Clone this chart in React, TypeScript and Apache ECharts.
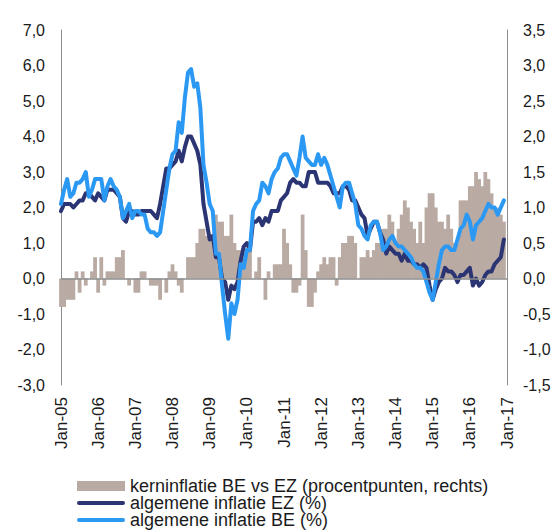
import React, { useEffect, useRef } from "react";
import * as echarts from "echarts";

const xTickLabels = ["Jan-05","Jan-06","Jan-07","Jan-08","Jan-09","Jan-10","Jan-11","Jan-12","Jan-13","Jan-14","Jan-15","Jan-16","Jan-17"];

// monthly, Jan-05 .. Dec-16
const ezInflation = [
  1.9,2.1,2.1,2.1,2.0,2.1,2.2,2.2,2.4,2.4,2.3,2.2,
  2.4,2.3,2.2,2.5,2.5,2.5,2.4,2.3,1.7,1.6,1.9,1.9,
  1.8,1.8,1.9,1.9,1.9,1.9,1.8,1.7,2.1,2.6,3.1,3.1,
  3.2,3.3,3.6,3.3,3.7,4.0,4.0,3.8,3.6,3.2,2.1,1.6,
  1.1,1.2,0.6,0.6,0.0,-0.1,-0.6,-0.2,-0.3,-0.1,0.5,0.9,
  1.0,0.8,1.6,1.6,1.7,1.5,1.7,1.6,1.9,1.9,1.9,2.2,
  2.3,2.4,2.7,2.8,2.7,2.7,2.6,2.6,3.0,3.0,3.0,2.7,
  2.7,2.7,2.7,2.6,2.4,2.4,2.4,2.6,2.6,2.5,2.2,2.2,
  2.0,1.8,1.7,1.2,1.4,1.6,1.6,1.3,1.1,0.7,0.9,0.8,
  0.7,0.7,0.5,0.7,0.5,0.5,0.4,0.4,0.3,0.4,0.3,-0.2,
  -0.6,-0.3,-0.1,0.0,0.3,0.2,0.2,0.1,-0.1,0.1,0.1,0.2,
  0.3,-0.2,0.0,-0.2,-0.1,0.1,0.2,0.2,0.4,0.5,0.6,1.1
];

const beInflation = [
  2.1,2.5,2.8,2.3,2.4,2.7,2.7,2.8,3.0,2.3,2.5,2.8,
  2.8,2.8,2.2,2.6,2.8,2.6,2.5,2.3,1.7,1.9,2.1,1.7,
  1.9,1.9,1.8,1.8,1.4,1.3,1.3,1.2,1.3,1.9,2.5,3.1,
  3.5,3.6,4.4,4.1,5.1,5.8,5.9,5.4,5.5,4.8,3.2,2.7,
  2.1,1.9,0.7,0.7,-0.2,-1.0,-1.7,-0.7,-1.0,-0.6,0.4,0.3,
  0.8,0.8,1.9,2.1,2.2,2.7,2.6,2.4,2.8,3.0,3.1,3.4,
  3.5,3.5,3.3,3.1,2.9,3.4,4.0,3.4,3.3,3.2,3.2,3.5,
  3.2,3.4,3.2,2.9,2.6,2.3,2.0,2.6,2.7,2.7,2.4,2.1,
  1.5,1.4,1.2,1.1,1.5,1.6,1.6,1.3,0.8,0.9,1.1,1.2,
  1.0,0.9,0.9,0.8,0.7,0.6,0.4,0.3,0.3,0.2,-0.1,-0.4,
  -0.6,-0.1,0.4,0.8,0.9,0.9,0.8,0.8,1.1,1.4,1.5,1.8,
  1.6,1.1,1.5,1.6,1.7,1.9,2.1,2.0,2.0,1.8,2.0,2.2
];

// kerninflatie BE vs EZ (procentpunten), right axis
const coreDiff = [
  -0.4,-0.4,-0.3,-0.3,-0.3,0.1,-0.2,0.1,-0.1,0,0.1,0.3,
  -0.2,0.3,-0.1,0.1,0.1,0.1,0.3,0.3,0.4,0,-0.1,0,
  -0.2,-0.2,0.1,0.1,0,-0.1,-0.1,-0.1,-0.3,0,-0.2,0.1,
  0.2,0.1,-0.1,-0.2,0,0.3,0.3,0.3,0.5,0.7,0.7,0.6,
  0.6,0.6,0.9,0.8,0.8,0.6,0.6,0.9,0.5,0.4,0.4,0.4,
  0.4,0.4,0,0.1,0.3,0,-0.3,0.1,0,0.2,0.2,0.2,
  0.7,0.5,0.2,-0.2,-0.2,-0.1,0.9,0.4,-0.4,-0.4,-0.2,0.1,
  0.2,0.3,0.2,0.3,0.3,-0.1,0.3,0.5,0.5,0.6,0.6,0.5,
  0,0.3,0.3,0.4,0.3,0.4,0.5,0.5,0.7,0.7,0.9,0.8,
  0.5,0.7,0.9,1.1,1.0,0.8,0.7,0.5,0.8,0.5,1.0,1.2,
  1.2,1.0,0.8,0.8,0.7,0.9,0.7,0.5,0.5,1.1,1.1,1.1,
  1.3,1.3,1.5,1.4,1.3,1.5,1.4,1.2,1.0,1.0,0.9,0.8
];

const legendNames = [
  "kerninflatie BE vs EZ (procentpunten, rechts)",
  "algemene inflatie EZ (%)",
  "algemene inflatie BE (%)"
];

const colors = { bar: "#b9aba3", ez: "#2c3574", be: "#2b99f3", axis: "#8c8c8c", text: "#1a1a1a" };

const fmt = (v: number) => v.toFixed(1).replace(".", ",");
const lineIcon = "path://M2,0 H46 A2,2 0 0 1 46,4 H2 A2,2 0 0 1 2,0 Z";

export default function App() {
  const ref = useRef<HTMLDivElement>(null);
  useEffect(() => {
    document.body.style.margin = "0";
    if (!ref.current) return;
    const chart = echarts.init(ref.current, undefined, { renderer: "svg" });
    const font = "'Liberation Sans', Arial, sans-serif";
    const legendIcons = ["rect", lineIcon, lineIcon];
    const legendColors = [colors.bar, colors.ez, colors.be];
    const legendTops = [477, 494, 511];
    chart.setOption({
      animation: false,
      textStyle: { fontFamily: font },
      grid: { left: 61, right: 51, top: 30, bottom: 145, containLabel: false },
      legend: legendNames.map((name, k) => ({
        orient: "horizontal",
        left: 77,
        top: legendTops[k],
        padding: 0,
        itemGap: 0,
        itemWidth: 48,
        itemHeight: 10,
        textStyle: { fontSize: 18, color: colors.text, fontFamily: font, lineHeight: 18 },
        data: [{ name, icon: legendIcons[k], itemStyle: { color: legendColors[k] } }]
      })),
      xAxis: {
        type: "value",
        min: 0,
        max: 144,
        interval: 12,
        axisLine: { show: false },
        axisTick: { show: false },
        splitLine: { show: false },
        axisLabel: {
          rotate: 90,
          margin: 12,
          fontSize: 17,
          color: colors.text,
          fontFamily: font,
          formatter: (v: number) => xTickLabels[Math.round(v / 12)] ?? ""
        }
      },
      yAxis: [
        {
          type: "value",
          min: -3,
          max: 7,
          interval: 1,
          position: "left",
          axisLine: { show: true, lineStyle: { color: colors.axis, width: 1 } },
          axisTick: { show: false },
          splitLine: { show: false },
          axisLabel: { fontSize: 16, color: colors.text, margin: 16, fontFamily: font, formatter: fmt }
        },
        {
          type: "value",
          min: -1.5,
          max: 3.5,
          interval: 0.5,
          position: "right",
          axisLine: { show: true, lineStyle: { color: colors.axis, width: 1 } },
          axisTick: { show: false },
          splitLine: { show: false },
          axisLabel: { fontSize: 16, color: colors.text, margin: 16, fontFamily: font, formatter: fmt }
        }
      ],
      series: [
        {
          name: legendNames[0],
          type: "bar",
          yAxisIndex: 1,
          barWidth: 3.8,
          itemStyle: { color: colors.bar },
          data: coreDiff.map((v, i) => [i, v]),
          markLine: {
            silent: true,
            symbol: "none",
            label: { show: false },
            lineStyle: { color: colors.axis, type: "solid", width: 1.5 },
            data: [{ yAxis: 0 }]
          }
        },
        {
          name: legendNames[1],
          type: "line",
          yAxisIndex: 0,
          symbol: "none",
          lineStyle: { color: colors.ez, width: 4, join: "round", cap: "round" },
          itemStyle: { color: colors.ez },
          data: ezInflation.map((v, i) => [i, v])
        },
        {
          name: legendNames[2],
          type: "line",
          yAxisIndex: 0,
          symbol: "none",
          lineStyle: { color: colors.be, width: 4, join: "round", cap: "round" },
          itemStyle: { color: colors.be },
          data: beInflation.map((v, i) => [i, v])
        }
      ]
    });
    return () => chart.dispose();
  }, []);
  return <div ref={ref} style={{ width: 558, height: 530, position: "absolute", left: 0, top: 0 }} />;
}
